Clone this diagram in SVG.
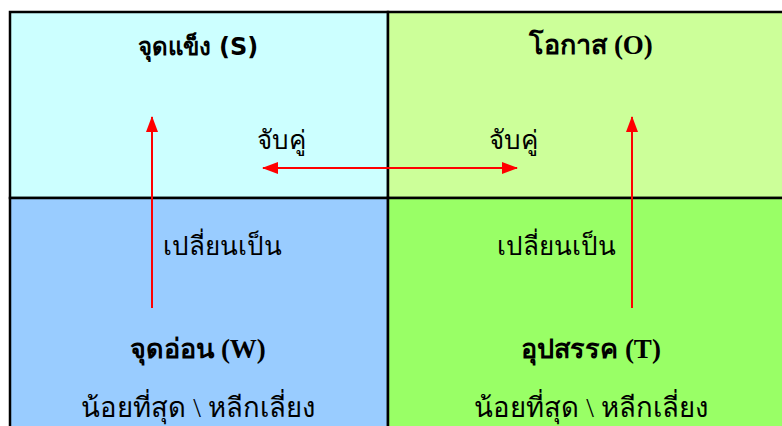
<svg xmlns="http://www.w3.org/2000/svg" width="782" height="426" viewBox="0 0 782 426">
<defs>
<style>
.cell{stroke:#000;stroke-width:2.5}
.sans{font-family:"DejaVu Sans","Noto Sans",sans-serif;font-weight:bold;font-size:24px;fill:#000}
.serifb{font-family:"Liberation Serif","DejaVu Serif",serif;font-weight:bold;font-size:27px;fill:#000}
.serif{font-family:"Liberation Serif","DejaVu Serif",serif;font-size:26px;fill:#000}
.serifl{font-family:"Liberation Serif","DejaVu Serif",serif;font-size:27.5px;fill:#000}
.arrow{stroke:#ff0000;stroke-width:2;fill:none}
</style>
<marker id="ah" viewBox="0 0 16 12" refX="15" refY="6" markerWidth="16" markerHeight="12" markerUnits="userSpaceOnUse" orient="auto">
<path d="M0,0 L16,6 L0,12 Z" fill="#ff0000"/>
</marker>
</defs>
<g id="strengths">
<rect class="cell" x="10" y="12" width="378" height="186" fill="#ccffff"/>
<text class="sans" x="198" y="55" text-anchor="middle">จุดแข็ง (S)</text>
</g>
<g id="opportunities">
<rect class="cell" x="388" y="12" width="400" height="186" fill="#ccff99"/>
<text class="serifb" x="591" y="54" text-anchor="middle">โอกาส (O)</text>
</g>
<g id="weaknesses">
<rect class="cell" x="10" y="198" width="378" height="240" fill="#99ccff"/>
<text class="serifb" x="198" y="358" text-anchor="middle">จุดอ่อน (W)</text>
<text class="serifl" x="198" y="417" text-anchor="middle">น้อยที่สุด \ หลีกเลี่ยง</text>
</g>
<g id="threats">
<rect class="cell" x="388" y="198" width="400" height="240" fill="#99ff66"/>
<text class="serifb" x="591" y="358" text-anchor="middle">อุปสรรค (T)</text>
<text class="serifl" x="591" y="417" text-anchor="middle">น้อยที่สุด \ หลีกเลี่ยง</text>
</g>
<g id="connectors">
<line class="arrow" x1="388" y1="168" x2="263" y2="168" marker-end="url(#ah)"/>
<line class="arrow" x1="388" y1="168" x2="517" y2="168" marker-end="url(#ah)"/>
<line class="arrow" x1="152" y1="308" x2="152" y2="117" marker-end="url(#ah)"/>
<line class="arrow" x1="632" y1="308" x2="632" y2="117" marker-end="url(#ah)"/>
<text class="serif" x="281" y="149" text-anchor="middle">จับคู่</text>
<text class="serif" x="513" y="149" text-anchor="middle">จับคู่</text>
<text class="serif" x="222" y="255" text-anchor="middle">เปลี่ยนเป็น</text>
<text class="serif" x="556" y="255" text-anchor="middle">เปลี่ยนเป็น</text>
</g>
</svg>
